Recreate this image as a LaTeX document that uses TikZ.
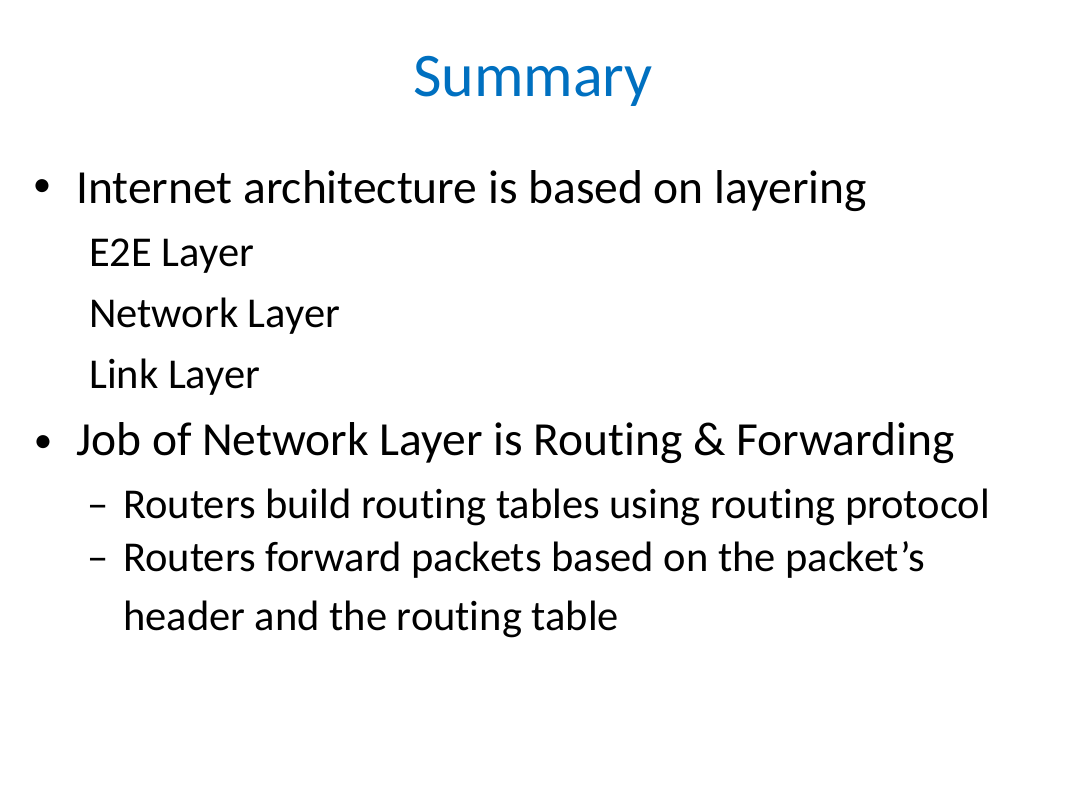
\documentclass[tikz,border=0pt]{standalone}
\usepackage{fontspec}
\setmainfont{Carlito}[Ligatures=CommonOff]
\definecolor{titleblue}{RGB}{0,112,192}
\tikzset{
  slidetitle/.style={anchor=base, inner sep=0pt, text=titleblue,
    font=\fontsize{62}{70}\selectfont},
  mainitem/.style={anchor=base west, inner sep=0pt,
    font=\fontsize{47.5}{54}\selectfont},
  bulletdot/.style={anchor=center, inner sep=0pt,
    font=\fontsize{37}{40}\selectfont},
  subitem/.style={anchor=base west, inner sep=0pt,
    font=\fontsize{42.5}{48}\selectfont}
}
\begin{document}
\begin{tikzpicture}[x=1pt, y=-1pt]

  % page
  \useasboundingbox[fill=white] (0,0) rectangle (1066,800);

  % title
  \node[slidetitle] (title) at (533,96) {Summary};

  % first bullet
  \node[bulletdot] (dotA) at (42,188) {•};
  \node[mainitem] (archi) at (76,203) {Internet architecture is based on layering};
  % layers
  \node[subitem] (eee) at (89,266) {E2E Layer};
  \node[subitem] (net) at (89,327) {Network Layer};
  \node[subitem] (link) at (89,388) {Link Layer};

  % second bullet
  \node[bulletdot] (dotB) at (43,444) {•};
  \node[mainitem] (job) at (76,455) {Job of Network Layer is Routing \& Forwarding};
  % dashes
  \node[subitem] (dashA) at (87,518) {–};
  \node[subitem] (build) at (123,518) {Routers build routing tables using routing protocol};
  \node[subitem] (dashB) at (87,571) {–};
  \node[subitem] (fwd) at (123,571) {Routers forward packets based on the packet’s};
  \node[subitem] (fwdb) at (123,630) {header and the routing table};

\end{tikzpicture}
\end{document}
